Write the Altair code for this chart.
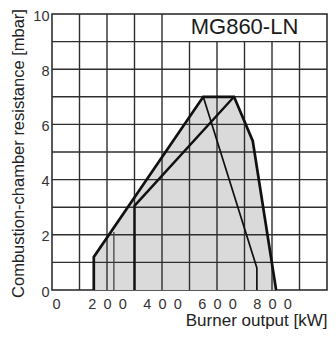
import altair as alt
import pandas as pd

# tick labels
x_ticks = [0, 200, 400, 600, 800]
y_ticks = [0, 2, 4, 6, 8, 10]

# grid
grid_x = [100, 200, 300, 400, 500, 600, 700, 800, 900]
grid_x_top = [10, 10, 10, 10, 9, 9, 9, 9, 9]
grid_y = [1, 2, 3, 4, 5, 6, 7, 8, 9]

# outer envelope of the working field
env_x = [152, 152, 550, 662, 730, 815]
env_y = [0, 1.2, 7.0, 7.0, 5.4, 0]

# inner curves
a_x = [300, 300, 662]
a_y = [0, 3.05, 7.0]
b_x = [550, 745, 745]
b_y = [7.0, 0.8, 0]
c_x = [225, 225]
c_y = [0, 2.1]

label_txt = ["MG860-LN"]
label_x = [700]
label_y = [9.52]

FONT = "Liberation Sans"
xs = alt.Scale(domain=[0, 1000], nice=False, zero=False)
ys = alt.Scale(domain=[0, 10], nice=False, zero=False)

xaxis = alt.Axis(
    values=x_ticks, grid=False, ticks=False, domain=False,
    labelFont=FONT, labelFontSize=14.5, labelColor="#333", labelPadding=7,
    labelExpr="join(split(datum.label, ''), '\u2002')",
    title="Burner output [kW]", titleFont=FONT, titleFontSize=17,
    titleFontWeight="normal", titleColor="#222",
    titleAlign="right", titleBaseline="alphabetic", titleX=275, titleY=35,
)
yaxis = alt.Axis(
    values=y_ticks, grid=False, ticks=False, domain=False,
    labelFont=FONT, labelFontSize=14.5, labelColor="#333", labelPadding=3,
    labelOffset=2,
    title="Combustion-chamber resistance [mbar]", titleFont=FONT,
    titleFontSize=16.5, titleFontWeight="normal", titleColor="#222",
    titleAngle=270, titleAlign="center", titleBaseline="alphabetic",
    titleX=-29, titleY=139,
)

fill_df = pd.DataFrame({"x": env_x[1:], "y": env_y[1:]})
area = alt.Chart(fill_df).mark_area(color="#dadada").encode(
    x=alt.X("x:Q", scale=xs, axis=xaxis),
    y=alt.Y("y:Q", scale=ys, axis=yaxis),
)

gv_df = pd.DataFrame({"x": grid_x, "top": grid_x_top})
gv = alt.Chart(gv_df).mark_rule(color="#2e2e2e", strokeWidth=1.4).encode(
    x=alt.X("x:Q", scale=xs),
    y=alt.Y("top:Q", scale=ys),
    y2=alt.datum(0),
)
gh_df = pd.DataFrame({"y": grid_y})
gh = alt.Chart(gh_df).mark_rule(color="#2e2e2e", strokeWidth=1.4).encode(
    y=alt.Y("y:Q", scale=ys),
)


def line(xv, yv, width, color="#111"):
    df = pd.DataFrame({"x": xv, "y": yv, "i": list(range(len(xv)))})
    return alt.Chart(df).mark_line(color=color, strokeWidth=width,
                                   strokeJoin="miter").encode(
        x=alt.X("x:Q", scale=xs),
        y=alt.Y("y:Q", scale=ys),
        order=alt.Order("i:Q"),
    )


c_line = line(c_x, c_y, 1.3, "#444")
b_line = line(b_x, b_y, 1.7)
a_line = line(a_x, a_y, 2.4)
env = line(env_x, env_y, 2.7)

txt_df = pd.DataFrame({"t": label_txt, "x": label_x, "y": label_y})
txt = alt.Chart(txt_df).mark_text(
    font=FONT, fontSize=22, color="#1a1a1a", align="center", baseline="middle"
).encode(x=alt.X("x:Q", scale=xs), y=alt.Y("y:Q", scale=ys), text="t:N")

chart = alt.layer(area, gv, gh, c_line, b_line, a_line, env, txt).properties(
    width=275, height=276,
    autosize=alt.AutoSizeParams(type="none"),
    padding={"left": 44, "top": 6, "right": 1, "bottom": 40},
).configure_view(stroke="#222", strokeWidth=1.5)

chart.save("out.html", embed_options={"renderer": "svg", "actions": False})
